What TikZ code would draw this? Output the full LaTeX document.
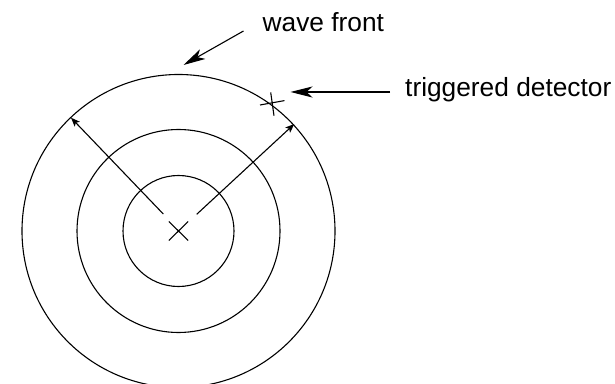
\documentclass[tikz,border=0pt]{standalone}
\usepackage{fontspec}
\setmainfont{Liberation Sans}
\usetikzlibrary{arrows.meta}
\begin{document}
\begin{tikzpicture}[x=1pt,y=1pt,
  ln/.style={line width=1.1pt, black},
  bigarrow/.style={ln, -{Stealth[length=22pt,width=11pt,inset=6pt]}},
  smallarrow/.style={ln, -{Stealth[length=9pt,width=7pt,inset=2pt]}},
  lbl/.style={inner sep=0pt, anchor=base west, font=\fontsize{26.3}{30}\selectfont}]
\useasboundingbox (0,0) rectangle (615,383);
\clip (0,0) rectangle (615,383);
\coordinate (c) at (178.5,152);
% circles
\draw[ln] (c) circle[radius=55.5];
\draw[ln] (c) circle[radius=101.5];
\draw[ln] (c) circle[radius=156.5];
% source cross
\draw[ln] (168.8,161.5) -- (188.2,142.5);
\draw[ln] (168.8,142.5) -- (188.2,161.5);
% detector cross
\coordinate (det) at (272.3,280.2);
\draw[ln] (260,278) -- (284.5,282.4);
\draw[ln] (270.7,290.5) -- (274,267.3);
% radius arrows
\coordinate (l0) at (163.3,169);
\coordinate (l1) at (71,265.3);
\coordinate (r0) at (196.7,168.7);
\coordinate (r1) at (294.3,259);
\draw[smallarrow] (l0) -- (l1);
\draw[smallarrow] (r0) -- (r1);
% labels
\node[lbl] (wf) at (262.5,351) {wave front};
\node[lbl] (td) at (405,286) {triggered detector};
\coordinate (wft) at (243.5,352);
\coordinate (wfh) at (183.5,318);
\coordinate (tdt) at (390,291);
\coordinate (tdh) at (290.5,291);
\draw[bigarrow] (wft) -- (wfh);
\draw[bigarrow] (tdt) -- (tdh);
\end{tikzpicture}
\end{document}
